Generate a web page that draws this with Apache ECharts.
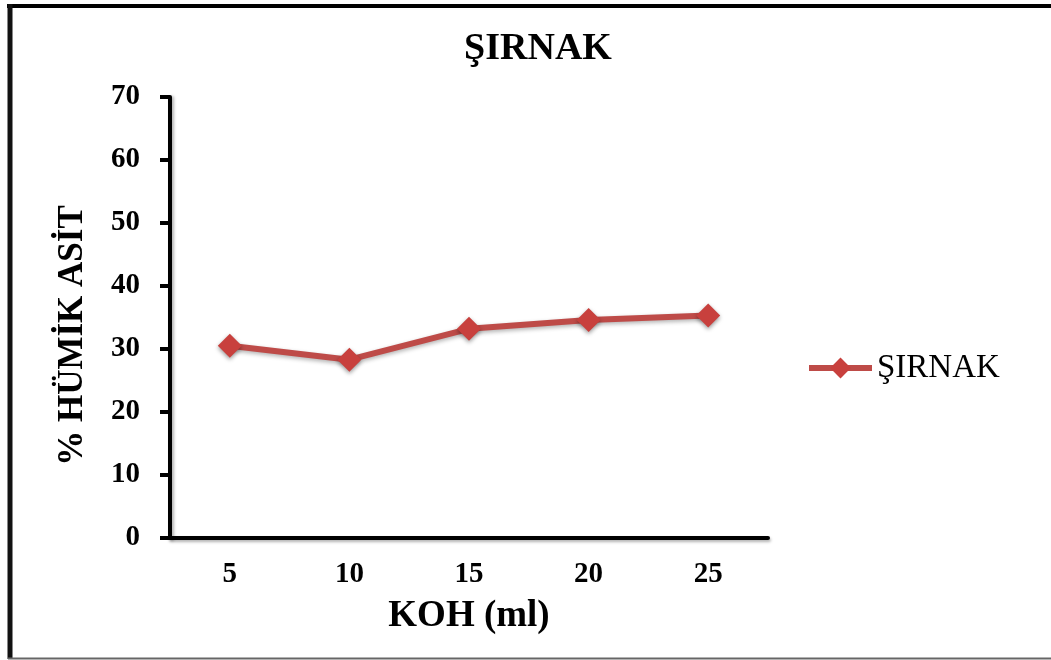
<!DOCTYPE html>
<html>
<head>
<meta charset="utf-8">
<script src="https://cdn.jsdelivr.net/npm/echarts@6/dist/echarts.min.js"></script>
<style>
html,body{margin:0;padding:0;background:#fff;}
#chart{width:1051px;height:660px;}
</style>
</head>
<body>
<div id="chart"></div>
<script>
const titleText = 'ŞIRNAK';
const seriesName = 'ŞIRNAK';
const categories = ['5', '10', '15', '20', '25'];
const humicValues = [30.5, 28.3, 33.2, 34.6, 35.3];
const yAxisName = '% HÜMİK ASİT';
const xAxisName = 'KOH (ml)';

const FONT = '"Liberation Serif", "Times New Roman", "DejaVu Serif", serif';
const RED = '#BE4B48';

const chart = echarts.init(document.getElementById('chart'), null, {renderer: 'canvas'});
chart.setOption({
  backgroundColor: '#ffffff',
  animation: false,
  title: {
    text: titleText,
    left: 533, top: 25, textAlign: 'center',
    textStyle: {fontFamily: FONT, fontWeight: 'bold', fontSize: 38, color: '#000'}
  },
  legend: {
    data: [seriesName],
    orient: 'vertical',
    left: 801, top: 346,
    itemWidth: 63, itemHeight: 26,
    lineStyle: {width: 6, color: RED},
    itemStyle: {color: '#C8403D'},
    textStyle: {fontFamily: FONT, fontWeight: 'normal', fontSize: 33, color: '#000', lineHeight: 34}
  },
  grid: {left: 170, right: 283, top: 97, bottom: 122, containLabel: false},
  xAxis: {
    type: 'category',
    data: categories,
    boundaryGap: true,
    name: xAxisName,
    nameLocation: 'middle',
    nameGap: 60,
    nameTextStyle: {fontFamily: FONT, fontWeight: 'bold', fontSize: 37, color: '#000'},
    axisLine: {lineStyle: {color: '#000', width: 4, shadowBlur: 3, shadowColor: 'rgba(0,0,0,0.3)', shadowOffsetX: 1, shadowOffsetY: 2}},
    axisTick: {show: false},
    axisLabel: {fontFamily: FONT, fontWeight: 'bold', fontSize: 29, color: '#000', margin: 22},
    splitLine: {show: false}
  },
  yAxis: {
    type: 'value',
    min: 0, max: 70, interval: 10,
    name: yAxisName,
    nameLocation: 'middle',
    nameRotate: 90,
    nameGap: 80,
    nameTextStyle: {fontFamily: FONT, fontWeight: 'bold', fontSize: 35, color: '#000', padding: [0, 36, 0, 0]},
    axisLine: {show: true, lineStyle: {color: '#000', width: 4, shadowBlur: 3, shadowColor: 'rgba(0,0,0,0.3)', shadowOffsetX: 2, shadowOffsetY: 1}},
    axisTick: {show: true, inside: false, length: 10, lineStyle: {color: '#000', width: 4}},
    axisLabel: {fontFamily: FONT, fontWeight: 'bold', fontSize: 29, color: '#000', margin: 30},
    splitLine: {show: false}
  },
  series: [{
    name: seriesName,
    type: 'line',
    data: humicValues,
    symbol: 'diamond',
    symbolSize: 24,
    lineStyle: {color: RED, width: 6, shadowBlur: 4, shadowColor: 'rgba(0,0,0,0.3)', shadowOffsetY: 2},
    itemStyle: {color: '#C8403D', shadowBlur: 4, shadowColor: 'rgba(0,0,0,0.4)', shadowOffsetY: 2}
  }],
  graphic: [
    {type: 'line', shape: {x1: 7, y1: 6, x2: 1051, y2: 6}, style: {stroke: '#000', lineWidth: 4}, z: 100},
    {type: 'line', shape: {x1: 10, y1: 4, x2: 10, y2: 659}, style: {stroke: '#111', lineWidth: 5}, z: 100},
    {type: 'line', shape: {x1: 8, y1: 658.5, x2: 1051, y2: 658.5}, style: {stroke: '#666', lineWidth: 2}, z: 100}
  ]
});
</script>
</body>
</html>
